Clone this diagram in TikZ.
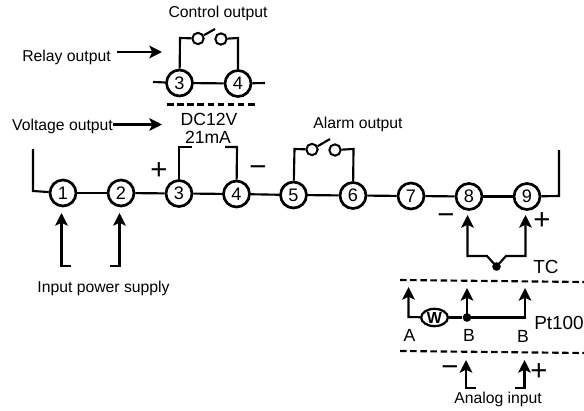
\documentclass[tikz,border=0pt]{standalone}
\usepackage{fontspec}
\setmainfont{Liberation Sans}
\usetikzlibrary{arrows.meta,shapes.geometric}
\tikzset{
  wire/.style={line width=1.6pt,line cap=butt,line join=miter},
  arrowwire/.style={wire,-{Stealth[length=9.5pt,width=9.5pt,inset=2.2pt]}},
  term/.style={circle,draw,line width=2pt,minimum size=19.5pt,inner sep=0pt,fill=white,font=\fontsize{13.6}{14}\selectfont},
  contact/.style={circle,draw,line width=1.5pt,minimum size=8.5pt,inner sep=0pt,fill=white},
  lbl/.style={inner sep=0pt,font=\fontsize{11.8}{13}\selectfont},
  biglbl/.style={inner sep=0pt,font=\fontsize{14.2}{15}\selectfont},
  midlbl/.style={inner sep=0pt,font=\fontsize{13.2}{14}\selectfont},
  sign/.style={inner sep=0pt,font=\fontsize{22}{23}\selectfont},
  dot/.style={circle,fill=black,minimum size=6.5pt,inner sep=0pt},
  sep/.style={line width=1.6pt,dash pattern=on 4.9pt off 2.7pt},
  rtd/.style={ellipse,draw,line width=1.7pt,minimum width=20pt,minimum height=13pt,inner sep=0pt,fill=white,font=\fontsize{12}{12}\bfseries\selectfont}
}
\begin{document}
\begin{tikzpicture}[x=0.75pt,y=-0.75pt]
\useasboundingbox[fill=white] (0,0) rectangle (584,410);
% main terminals
\node[term] (t1) at (63,193) {1};
\node[term] (t2) at (121,193) {2};
\node[term] (t3) at (179,193.5) {3};
\node[term] (t4) at (236.5,194) {4};
\node[term] (t5) at (293.5,195) {5};
\node[term] (t6) at (353,195.5) {6};
\node[term] (t7) at (411,196) {7};
\node[term] (t8) at (469,196.5) {8};
\node[term] (t9) at (527,196.5) {9};
\coordinate (lefttop) at (33,149);
\coordinate (leftbot) at (33,191);
\coordinate (righttop) at (559,150);
\coordinate (rightbot) at (559,196);
\draw[wire] (lefttop) -- (leftbot) -- (t1);
\draw[wire] (t1) -- (t2);
\draw[wire] (t2) -- (t3);
\draw[wire] (t3) -- (t4);
\draw[wire] (t4) -- (t5);
\draw[wire] (t5) -- (t6);
\draw[wire] (t6) -- (t7);
\draw[wire] (t7) -- (t8);
\draw[wire] (t8) -- (t9);
\draw[wire] (t9) -- (rightbot) -- (righttop);
% control relay
\node[term] (r3) at (179.5,83) {3};
\node[term] (r4) at (238,83.5) {4};
\node[contact] (ca) at (198,38.5) {};
\node[contact] (cb) at (221,39) {};
\coordinate (rl) at (153,82);
\coordinate (rr) at (265,83);
\coordinate (rlk) at (180,38);
\coordinate (rrk) at (238,38);
\coordinate (lev1) at (215,29);
\draw[wire] (rl) -- (r3);
\draw[wire] (r3) -- (r4);
\draw[wire] (r4) -- (rr);
\draw[wire] (r3) -- (rlk) -- (ca);
\draw[wire] (cb) -- (rrk) -- (r4);
\draw[wire] (ca) -- (lev1);
\draw[sep] (167,104.5) -- (256,104.5);
% labels and pointers
\node[lbl] (lco) at (218,13) {Control output};
\node[lbl] (lro) at (66.5,57) {Relay output};
\node[lbl] (lvo) at (62.5,126) {Voltage output};
\coordinate (roend) at (162,52);
\coordinate (voend) at (162,124.5);
\draw[arrowwire] (117,52) -- (roend);
\draw[arrowwire] (lvo.east |- voend) -- (voend);
\node[midlbl] (ldc) at (209,119.5) {DC12V};
\node[midlbl] (lma) at (208,137.5) {21mA};
% voltage bracket
\coordinate (vl1) at (179,147);
\coordinate (vl2) at (192,147);
\coordinate (vr1) at (237,147);
\coordinate (vr2) at (225,147);
\draw[wire] (t3) -- (vl1) -- (vl2);
\draw[wire] (t4) -- (vr1) -- (vr2);
\node[sign] (vp) at (159,171) {+};
\node[sign] (vm) at (258,171) {−};
% alarm
\node[lbl] (lal) at (358,124) {Alarm output};
\node[contact] (aa) at (312,149.5) {};
\node[contact] (ab) at (335,150) {};
\coordinate (al) at (294.5,149);
\coordinate (ar) at (353.5,149);
\coordinate (lev2) at (330,139);
\draw[wire] (t5) -- (al) -- (aa);
\draw[wire] (ab) -- (ar) -- (t6);
\draw[wire] (aa) -- (lev2);
% input power
\node[lbl] (lin) at (103.5,288) {Input power supply};
\coordinate (p1a) at (71,266);
\coordinate (p1b) at (61.5,266);
\coordinate (p1t) at (61.5,213);
\coordinate (p2a) at (110,266);
\coordinate (p2b) at (119.5,266);
\coordinate (p2t) at (119.5,213);
\draw[arrowwire] (p1a) -- (p1b) -- (p1t);
\draw[arrowwire] (p2a) -- (p2b) -- (p2t);
% thermocouple
\node[dot] (tcd) at (496.5,266.5) {};
\coordinate (tcl) at (467.5,256);
\coordinate (tcl2) at (487,256);
\coordinate (tcr) at (525.5,256);
\coordinate (tcr2) at (506,256);
\coordinate (tclt) at (467.5,215);
\coordinate (tcrt) at (525.5,215);
\draw[arrowwire] (tcd.center) -- (tcl2) -- (tcl) -- (tclt);
\draw[arrowwire] (tcd.center) -- (tcr2) -- (tcr) -- (tcrt);
\node[sign] (tm) at (446,219) {−};
\node[sign] (tp) at (542,221) {+};
\node[biglbl] (ltc) at (546,267) {TC};
\draw[sep] (400,280) -- (584,282);
% Pt100
\node[rtd] (res) at (434.5,317.5) {W};
\node[dot] (ptd) at (467,317.5) {};
\coordinate (pa) at (408.5,317);
\coordinate (pat) at (408.5,287);
\coordinate (pbt) at (467,288);
\coordinate (pc) at (525,317.5);
\coordinate (pct) at (525,288);
\draw[arrowwire] (res) -- (pa) -- (pat);
\draw[wire] (res) -- (ptd);
\draw[arrowwire] (ptd.center) -- (pbt);
\draw[arrowwire] (ptd.center) -- (pc) -- (pct);
\node[midlbl] (la) at (409.5,335.5) {A};
\node[midlbl] (lb1) at (469,335.5) {B};
\node[midlbl] (lb2) at (523,336.5) {B};
\node[biglbl] (lpt) at (559,323) {Pt100};
\draw[sep] (400,351) -- (584,353);
% analog
\coordinate (ana) at (476,388);
\coordinate (anb) at (466,388);
\coordinate (ant) at (466,360);
\coordinate (bna) at (515,388);
\coordinate (bnb) at (524.5,388);
\coordinate (bnt) at (524.5,360);
\draw[arrowwire] (ana) -- (anb) -- (ant);
\draw[arrowwire] (bna) -- (bnb) -- (bnt);
\node[sign] (am) at (450,371) {−};
\node[sign] (ap) at (539,372) {+};
\node[lbl] (lan) at (498,399) {Analog input};
\end{tikzpicture}
\end{document}
